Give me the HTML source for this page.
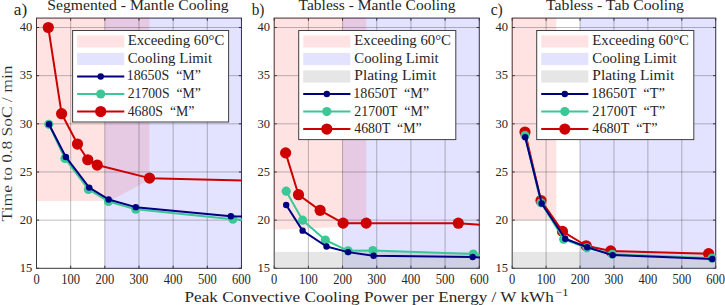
<!DOCTYPE html>
<html><head><meta charset="utf-8"><style>
html,body{margin:0;padding:0;background:#fff;}
svg{display:block;}
text{font-family:"Liberation Serif", serif;fill:#262626;}
text.thin{stroke:#fff;stroke-width:0.15px;}

</style></head><body>
<svg width="725" height="305" viewBox="0 0 725 305">
<path d="M36.5 268.3v-2.6M36.5 18.1v2.6M70.66 268.3v-2.6M70.66 18.1v2.6M104.82 268.3v-2.6M104.82 18.1v2.6M138.98 268.3v-2.6M138.98 18.1v2.6M173.14 268.3v-2.6M173.14 18.1v2.6M207.3 268.3v-2.6M207.3 18.1v2.6M241.46 268.3v-2.6M241.46 18.1v2.6M36.5 268.3h2.6M241.46 268.3h-2.6M36.5 220.14h2.6M241.46 220.14h-2.6M36.5 171.98h2.6M241.46 171.98h-2.6M36.5 123.82h2.6M241.46 123.82h-2.6M36.5 75.66h2.6M241.46 75.66h-2.6M36.5 27.5h2.6M241.46 27.5h-2.6" stroke="#383838" stroke-width="1" fill="none"/>
<rect x="36.5" y="18.1" width="204.96" height="250.2" stroke="#383838" stroke-width="1" fill="none"/>
<clipPath id="clipa"><rect x="35.9" y="17.5" width="206.16" height="251.4"/></clipPath>
<g clip-path="url(#clipa)">
<rect x="104.82" y="17.1" width="137.64" height="252.2" fill="rgba(0,0,255,0.11)"/>
<polygon points="35.5,17.1 149.4,17.1 149.4,179.69 109.94,200.88 35.5,200.88" fill="rgba(255,0,0,0.11)"/>
<path d="M70.66 18.1V268.3M104.82 18.1V268.3M138.98 18.1V268.3M173.14 18.1V268.3M207.3 18.1V268.3M36.5 220.14H241.46M36.5 171.98H241.46M36.5 123.82H241.46M36.5 75.66H241.46M36.5 27.5H241.46" stroke="#262626" stroke-opacity="0.3" stroke-width="1" fill="none"/>
<path d="M48.29 27.5 L61.61 113.71 L77.49 144.05 L87.74 159.75 L97.2 165.04 L149.5 178.14 L248.29 180.63" stroke="#cc0000" stroke-width="2" fill="none" stroke-linejoin="round"/>
<circle cx="48.29" cy="27.5" r="5.6" fill="#cc0000"/>
<circle cx="61.61" cy="113.71" r="5.6" fill="#cc0000"/>
<circle cx="77.49" cy="144.05" r="5.6" fill="#cc0000"/>
<circle cx="87.74" cy="159.75" r="5.6" fill="#cc0000"/>
<circle cx="97.2" cy="165.04" r="5.6" fill="#cc0000"/>
<circle cx="149.5" cy="178.14" r="5.6" fill="#cc0000"/>
<path d="M48.8 124.3 L64.96 158.5 L88.42 189.51 L108.51 201.45 L135.8 209.26 L232.92 219.18 L248.29 220.04" stroke="#3cc896" stroke-width="2" fill="none" stroke-linejoin="round"/>
<circle cx="48.8" cy="124.3" r="4.6" fill="#3cc896"/>
<circle cx="64.96" cy="158.5" r="4.6" fill="#3cc896"/>
<circle cx="88.42" cy="189.51" r="4.6" fill="#3cc896"/>
<circle cx="108.51" cy="201.45" r="4.6" fill="#3cc896"/>
<circle cx="135.8" cy="209.26" r="4.6" fill="#3cc896"/>
<circle cx="232.92" cy="219.18" r="4.6" fill="#3cc896"/>
<path d="M49 124.3 L65.81 156.95 L89.21 187.58 L108.58 199.43 L135.8 207.14 L230.87 216.19 L248.29 216.67" stroke="#000080" stroke-width="2" fill="none" stroke-linejoin="round"/>
<circle cx="49" cy="124.3" r="3.2" fill="#000080"/>
<circle cx="65.81" cy="156.95" r="3.2" fill="#000080"/>
<circle cx="89.21" cy="187.58" r="3.2" fill="#000080"/>
<circle cx="108.58" cy="199.43" r="3.2" fill="#000080"/>
<circle cx="135.8" cy="207.14" r="3.2" fill="#000080"/>
<circle cx="230.87" cy="216.19" r="3.2" fill="#000080"/>
</g>
<text x="36.5" y="283.5" font-size="13.6" textLength="6.25" lengthAdjust="spacingAndGlyphs" text-anchor="middle" class="tk">0</text>
<text x="70.66" y="283.5" font-size="13.6" textLength="18.75" lengthAdjust="spacingAndGlyphs" text-anchor="middle" class="tk">100</text>
<text x="104.82" y="283.5" font-size="13.6" textLength="18.75" lengthAdjust="spacingAndGlyphs" text-anchor="middle" class="tk">200</text>
<text x="138.98" y="283.5" font-size="13.6" textLength="18.75" lengthAdjust="spacingAndGlyphs" text-anchor="middle" class="tk">300</text>
<text x="173.14" y="283.5" font-size="13.6" textLength="18.75" lengthAdjust="spacingAndGlyphs" text-anchor="middle" class="tk">400</text>
<text x="207.3" y="283.5" font-size="13.6" textLength="18.75" lengthAdjust="spacingAndGlyphs" text-anchor="middle" class="tk">500</text>
<text x="241.46" y="283.5" font-size="13.6" textLength="18.75" lengthAdjust="spacingAndGlyphs" text-anchor="middle" class="tk">600</text>
<text x="32.2" y="272.1" font-size="13.1" textLength="12.5" lengthAdjust="spacingAndGlyphs" text-anchor="end" class="tk">15</text>
<text x="32.2" y="223.94" font-size="13.1" textLength="12.5" lengthAdjust="spacingAndGlyphs" text-anchor="end" class="tk">20</text>
<text x="32.2" y="175.78" font-size="13.1" textLength="12.5" lengthAdjust="spacingAndGlyphs" text-anchor="end" class="tk">25</text>
<text x="32.2" y="127.62" font-size="13.1" textLength="12.5" lengthAdjust="spacingAndGlyphs" text-anchor="end" class="tk">30</text>
<text x="32.2" y="79.46" font-size="13.1" textLength="12.5" lengthAdjust="spacingAndGlyphs" text-anchor="end" class="tk">35</text>
<text x="32.2" y="31.3" font-size="13.1" textLength="12.5" lengthAdjust="spacingAndGlyphs" text-anchor="end" class="tk">40</text>
<text x="47.26" y="10.4" font-size="15" textLength="181.47" lengthAdjust="spacingAndGlyphs" xml:space="preserve">Segmented - Mantle Cooling</text>
<text x="13.8" y="15" font-size="16" textLength="13.37" lengthAdjust="spacingAndGlyphs" xml:space="preserve">a)</text>
<path d="M274.2 268.3v-2.6M274.2 18.1v2.6M308.38 268.3v-2.6M308.38 18.1v2.6M342.56 268.3v-2.6M342.56 18.1v2.6M376.74 268.3v-2.6M376.74 18.1v2.6M410.92 268.3v-2.6M410.92 18.1v2.6M445.1 268.3v-2.6M445.1 18.1v2.6M479.28 268.3v-2.6M479.28 18.1v2.6M274.2 268.3h2.6M479.28 268.3h-2.6M274.2 220.14h2.6M479.28 220.14h-2.6M274.2 171.98h2.6M479.28 171.98h-2.6M274.2 123.82h2.6M479.28 123.82h-2.6M274.2 75.66h2.6M479.28 75.66h-2.6M274.2 27.5h2.6M479.28 27.5h-2.6" stroke="#383838" stroke-width="1" fill="none"/>
<rect x="274.2" y="18.1" width="205.08" height="250.2" stroke="#383838" stroke-width="1" fill="none"/>
<clipPath id="clipb"><rect x="273.6" y="17.5" width="206.28" height="251.4"/></clipPath>
<g clip-path="url(#clipb)">
<rect x="342.56" y="17.1" width="137.72" height="252.2" fill="rgba(0,0,255,0.11)"/>
<polygon points="273.2,17.1 366.32,17.1 366.32,223.13 342.56,223.13 342.56,226.88 273.2,229.77" fill="rgba(255,0,0,0.11)"/>
<rect x="273.2" y="251.93" width="207.08" height="17.37" fill="rgba(128,128,128,0.2)"/>
<path d="M308.38 18.1V268.3M342.56 18.1V268.3M376.74 18.1V268.3M410.92 18.1V268.3M445.1 18.1V268.3M274.2 220.14H479.28M274.2 171.98H479.28M274.2 123.82H479.28M274.2 75.66H479.28M274.2 27.5H479.28" stroke="#262626" stroke-opacity="0.3" stroke-width="1" fill="none"/>
<path d="M285.62 152.91 L298.5 194.71 L320.1 210.32 L343.11 223.13 L366.21 223.13 L458.29 223.22 L486.12 225.14" stroke="#cc0000" stroke-width="2" fill="none" stroke-linejoin="round"/>
<circle cx="285.62" cy="152.91" r="5.6" fill="#cc0000"/>
<circle cx="298.5" cy="194.71" r="5.6" fill="#cc0000"/>
<circle cx="320.1" cy="210.32" r="5.6" fill="#cc0000"/>
<circle cx="343.11" cy="223.13" r="5.6" fill="#cc0000"/>
<circle cx="366.21" cy="223.13" r="5.6" fill="#cc0000"/>
<circle cx="458.29" cy="223.22" r="5.6" fill="#cc0000"/>
<path d="M286.2 191.15 L302.6 220.14 L325.33 239.98 L348.1 250.87 L372.91 250.48 L473.2 254.04 L486.12 256.5" stroke="#3cc896" stroke-width="2" fill="none" stroke-linejoin="round"/>
<circle cx="286.2" cy="191.15" r="4.6" fill="#3cc896"/>
<circle cx="302.6" cy="220.14" r="4.6" fill="#3cc896"/>
<circle cx="325.33" cy="239.98" r="4.6" fill="#3cc896"/>
<circle cx="348.1" cy="250.87" r="4.6" fill="#3cc896"/>
<circle cx="372.91" cy="250.48" r="4.6" fill="#3cc896"/>
<circle cx="473.2" cy="254.04" r="4.6" fill="#3cc896"/>
<path d="M286.2 205.02 L302.6 230.64 L326.5 246.53 L348.1 252.12 L373.6 255.78 L472.68 257.03 L486.12 258.01" stroke="#000080" stroke-width="2" fill="none" stroke-linejoin="round"/>
<circle cx="286.2" cy="205.02" r="3.2" fill="#000080"/>
<circle cx="302.6" cy="230.64" r="3.2" fill="#000080"/>
<circle cx="326.5" cy="246.53" r="3.2" fill="#000080"/>
<circle cx="348.1" cy="252.12" r="3.2" fill="#000080"/>
<circle cx="373.6" cy="255.78" r="3.2" fill="#000080"/>
<circle cx="472.68" cy="257.03" r="3.2" fill="#000080"/>
</g>
<text x="274.2" y="283.5" font-size="13.6" textLength="6.25" lengthAdjust="spacingAndGlyphs" text-anchor="middle" class="tk">0</text>
<text x="308.38" y="283.5" font-size="13.6" textLength="18.75" lengthAdjust="spacingAndGlyphs" text-anchor="middle" class="tk">100</text>
<text x="342.56" y="283.5" font-size="13.6" textLength="18.75" lengthAdjust="spacingAndGlyphs" text-anchor="middle" class="tk">200</text>
<text x="376.74" y="283.5" font-size="13.6" textLength="18.75" lengthAdjust="spacingAndGlyphs" text-anchor="middle" class="tk">300</text>
<text x="410.92" y="283.5" font-size="13.6" textLength="18.75" lengthAdjust="spacingAndGlyphs" text-anchor="middle" class="tk">400</text>
<text x="445.1" y="283.5" font-size="13.6" textLength="18.75" lengthAdjust="spacingAndGlyphs" text-anchor="middle" class="tk">500</text>
<text x="479.28" y="283.5" font-size="13.6" textLength="18.75" lengthAdjust="spacingAndGlyphs" text-anchor="middle" class="tk">600</text>
<text x="269.9" y="272.1" font-size="13.1" textLength="12.5" lengthAdjust="spacingAndGlyphs" text-anchor="end" class="tk">15</text>
<text x="269.9" y="223.94" font-size="13.1" textLength="12.5" lengthAdjust="spacingAndGlyphs" text-anchor="end" class="tk">20</text>
<text x="269.9" y="175.78" font-size="13.1" textLength="12.5" lengthAdjust="spacingAndGlyphs" text-anchor="end" class="tk">25</text>
<text x="269.9" y="127.62" font-size="13.1" textLength="12.5" lengthAdjust="spacingAndGlyphs" text-anchor="end" class="tk">30</text>
<text x="269.9" y="79.46" font-size="13.1" textLength="12.5" lengthAdjust="spacingAndGlyphs" text-anchor="end" class="tk">35</text>
<text x="269.9" y="31.3" font-size="13.1" textLength="12.5" lengthAdjust="spacingAndGlyphs" text-anchor="end" class="tk">40</text>
<text x="298.6" y="10.4" font-size="15" textLength="156.95" lengthAdjust="spacingAndGlyphs" xml:space="preserve">Tabless - Mantle Cooling</text>
<text x="251.7" y="15" font-size="16" textLength="12.71" lengthAdjust="spacingAndGlyphs" xml:space="preserve">b)</text>
<path d="M512.2 268.3v-2.6M512.2 18.1v2.6M546.12 268.3v-2.6M546.12 18.1v2.6M580.04 268.3v-2.6M580.04 18.1v2.6M613.96 268.3v-2.6M613.96 18.1v2.6M647.88 268.3v-2.6M647.88 18.1v2.6M681.8 268.3v-2.6M681.8 18.1v2.6M715.72 268.3v-2.6M715.72 18.1v2.6M512.2 268.3h2.6M715.72 268.3h-2.6M512.2 220.14h2.6M715.72 220.14h-2.6M512.2 171.98h2.6M715.72 171.98h-2.6M512.2 123.82h2.6M715.72 123.82h-2.6M512.2 75.66h2.6M715.72 75.66h-2.6M512.2 27.5h2.6M715.72 27.5h-2.6" stroke="#383838" stroke-width="1" fill="none"/>
<rect x="512.2" y="18.1" width="203.52" height="250.2" stroke="#383838" stroke-width="1" fill="none"/>
<clipPath id="clipc"><rect x="511.6" y="17.5" width="204.72" height="251.4"/></clipPath>
<g clip-path="url(#clipc)">
<rect x="580.04" y="17.1" width="136.68" height="252.2" fill="rgba(0,0,255,0.11)"/>
<rect x="511.2" y="17.1" width="45.1" height="203.04" fill="rgba(255,0,0,0.11)"/>
<rect x="511.2" y="251.93" width="205.52" height="17.37" fill="rgba(128,128,128,0.2)"/>
<path d="M546.12 18.1V268.3M580.04 18.1V268.3M613.96 18.1V268.3M647.88 18.1V268.3M681.8 18.1V268.3M512.2 220.14H715.72M512.2 171.98H715.72M512.2 123.82H715.72M512.2 75.66H715.72M512.2 27.5H715.72" stroke="#262626" stroke-opacity="0.3" stroke-width="1" fill="none"/>
<path d="M524.99 132.01 L541 200.49 L562.5 231.41 L586.21 245.76 L610.7 250.96 L708.6 253.66" stroke="#cc0000" stroke-width="2" fill="none" stroke-linejoin="round"/>
<circle cx="524.99" cy="132.01" r="5.6" fill="#cc0000"/>
<circle cx="541" cy="200.49" r="5.6" fill="#cc0000"/>
<circle cx="562.5" cy="231.41" r="5.6" fill="#cc0000"/>
<circle cx="586.21" cy="245.76" r="5.6" fill="#cc0000"/>
<circle cx="610.7" cy="250.96" r="5.6" fill="#cc0000"/>
<circle cx="708.6" cy="253.66" r="5.6" fill="#cc0000"/>
<path d="M524.99 135.47 L541 202.8 L563.69 239.31 L586.89 247.78 L612.3 254.33 L711.99 258.19" stroke="#3cc896" stroke-width="2" fill="none" stroke-linejoin="round"/>
<circle cx="524.99" cy="135.47" r="4.6" fill="#3cc896"/>
<circle cx="541" cy="202.8" r="4.6" fill="#3cc896"/>
<circle cx="563.69" cy="239.31" r="4.6" fill="#3cc896"/>
<circle cx="586.89" cy="247.78" r="4.6" fill="#3cc896"/>
<circle cx="612.3" cy="254.33" r="4.6" fill="#3cc896"/>
<circle cx="711.99" cy="258.19" r="4.6" fill="#3cc896"/>
<path d="M525.19 137.3 L541.71 203.48 L565.22 238.73 L587.2 247.3 L612.6 255.1 L712.33 258.96" stroke="#000080" stroke-width="2" fill="none" stroke-linejoin="round"/>
<circle cx="525.19" cy="137.3" r="3.2" fill="#000080"/>
<circle cx="541.71" cy="203.48" r="3.2" fill="#000080"/>
<circle cx="565.22" cy="238.73" r="3.2" fill="#000080"/>
<circle cx="587.2" cy="247.3" r="3.2" fill="#000080"/>
<circle cx="612.6" cy="255.1" r="3.2" fill="#000080"/>
<circle cx="712.33" cy="258.96" r="3.2" fill="#000080"/>
</g>
<text x="512.2" y="283.5" font-size="13.6" textLength="6.25" lengthAdjust="spacingAndGlyphs" text-anchor="middle" class="tk">0</text>
<text x="546.12" y="283.5" font-size="13.6" textLength="18.75" lengthAdjust="spacingAndGlyphs" text-anchor="middle" class="tk">100</text>
<text x="580.04" y="283.5" font-size="13.6" textLength="18.75" lengthAdjust="spacingAndGlyphs" text-anchor="middle" class="tk">200</text>
<text x="613.96" y="283.5" font-size="13.6" textLength="18.75" lengthAdjust="spacingAndGlyphs" text-anchor="middle" class="tk">300</text>
<text x="647.88" y="283.5" font-size="13.6" textLength="18.75" lengthAdjust="spacingAndGlyphs" text-anchor="middle" class="tk">400</text>
<text x="681.8" y="283.5" font-size="13.6" textLength="18.75" lengthAdjust="spacingAndGlyphs" text-anchor="middle" class="tk">500</text>
<text x="715.72" y="283.5" font-size="13.6" textLength="18.75" lengthAdjust="spacingAndGlyphs" text-anchor="middle" class="tk">600</text>
<text x="507.9" y="272.1" font-size="13.1" textLength="12.5" lengthAdjust="spacingAndGlyphs" text-anchor="end" class="tk">15</text>
<text x="507.9" y="223.94" font-size="13.1" textLength="12.5" lengthAdjust="spacingAndGlyphs" text-anchor="end" class="tk">20</text>
<text x="507.9" y="175.78" font-size="13.1" textLength="12.5" lengthAdjust="spacingAndGlyphs" text-anchor="end" class="tk">25</text>
<text x="507.9" y="127.62" font-size="13.1" textLength="12.5" lengthAdjust="spacingAndGlyphs" text-anchor="end" class="tk">30</text>
<text x="507.9" y="79.46" font-size="13.1" textLength="12.5" lengthAdjust="spacingAndGlyphs" text-anchor="end" class="tk">35</text>
<text x="507.9" y="31.3" font-size="13.1" textLength="12.5" lengthAdjust="spacingAndGlyphs" text-anchor="end" class="tk">40</text>
<text x="546" y="10.4" font-size="15" textLength="137.99" lengthAdjust="spacingAndGlyphs" xml:space="preserve">Tabless - Tab Cooling</text>
<text x="490.7" y="15" font-size="16" textLength="12.13" lengthAdjust="spacingAndGlyphs" xml:space="preserve">c)</text>
<rect x="72.6" y="30.5" width="156" height="91.5" fill="#fff" stroke="#404040" stroke-width="1"/>
<rect x="77.1" y="35.35" width="47.2" height="12.2" fill="rgba(255,0,0,0.11)"/>
<text x="127.7" y="45.05" font-size="14.0" textLength="96.66" lengthAdjust="spacingAndGlyphs" xml:space="preserve">Exceeding 60°C</text>
<rect x="77.1" y="52.87" width="47.2" height="12.2" fill="rgba(0,0,255,0.11)"/>
<text x="127.7" y="62.71" font-size="14.0" textLength="84.42" lengthAdjust="spacingAndGlyphs" xml:space="preserve">Cooling Limit</text>
<path d="M77.1 76.49H124.3" stroke="#000080" stroke-width="2"/>
<circle cx="100.7" cy="76.49" r="3.2" fill="#000080"/>
<text x="126.71" y="80.37" font-size="14.0" textLength="74.16" lengthAdjust="spacingAndGlyphs" xml:space="preserve">18650S  “M”</text>
<path d="M77.1 94.01H124.3" stroke="#3cc896" stroke-width="2"/>
<circle cx="100.7" cy="94.01" r="4.6" fill="#3cc896"/>
<text x="127.7" y="98.03" font-size="14.0" textLength="73.16" lengthAdjust="spacingAndGlyphs" xml:space="preserve">21700S  “M”</text>
<path d="M77.1 111.53H124.3" stroke="#cc0000" stroke-width="2"/>
<circle cx="100.7" cy="111.53" r="5.6" fill="#cc0000"/>
<text x="127.7" y="115.69" font-size="14.0" textLength="66.76" lengthAdjust="spacingAndGlyphs" xml:space="preserve">4680S  “M”</text>
<rect x="298.7" y="30.5" width="157.1" height="109.1" fill="#fff" stroke="#404040" stroke-width="1"/>
<rect x="303.2" y="35.35" width="47.2" height="12.2" fill="rgba(255,0,0,0.11)"/>
<text x="354.3" y="45.05" font-size="14.0" textLength="96.66" lengthAdjust="spacingAndGlyphs" xml:space="preserve">Exceeding 60°C</text>
<rect x="303.2" y="52.87" width="47.2" height="12.2" fill="rgba(0,0,255,0.11)"/>
<text x="354.3" y="62.71" font-size="14.0" textLength="84.42" lengthAdjust="spacingAndGlyphs" xml:space="preserve">Cooling Limit</text>
<rect x="303.2" y="70.39" width="47.2" height="12.2" fill="rgba(128,128,128,0.2)"/>
<text x="354.3" y="80.37" font-size="14.0" textLength="81.91" lengthAdjust="spacingAndGlyphs" xml:space="preserve">Plating Limit</text>
<path d="M303.2 94.01H350.4" stroke="#000080" stroke-width="2"/>
<circle cx="326.8" cy="94.01" r="3.2" fill="#000080"/>
<text x="353.29" y="98.03" font-size="14.0" textLength="75.8" lengthAdjust="spacingAndGlyphs" xml:space="preserve">18650T  “M”</text>
<path d="M303.2 111.53H350.4" stroke="#3cc896" stroke-width="2"/>
<circle cx="326.8" cy="111.53" r="4.6" fill="#3cc896"/>
<text x="354.3" y="115.69" font-size="14.0" textLength="74.79" lengthAdjust="spacingAndGlyphs" xml:space="preserve">21700T  “M”</text>
<path d="M303.2 129.05H350.4" stroke="#cc0000" stroke-width="2"/>
<circle cx="326.8" cy="129.05" r="5.6" fill="#cc0000"/>
<text x="354.3" y="133.35" font-size="14.0" textLength="67.29" lengthAdjust="spacingAndGlyphs" xml:space="preserve">4680T  “M”</text>
<rect x="536.7" y="30.5" width="157.1" height="109.1" fill="#fff" stroke="#404040" stroke-width="1"/>
<rect x="541.2" y="35.35" width="47.2" height="12.2" fill="rgba(255,0,0,0.11)"/>
<text x="592.3" y="45.05" font-size="14.0" textLength="96.66" lengthAdjust="spacingAndGlyphs" xml:space="preserve">Exceeding 60°C</text>
<rect x="541.2" y="52.87" width="47.2" height="12.2" fill="rgba(0,0,255,0.11)"/>
<text x="592.3" y="62.71" font-size="14.0" textLength="84.42" lengthAdjust="spacingAndGlyphs" xml:space="preserve">Cooling Limit</text>
<rect x="541.2" y="70.39" width="47.2" height="12.2" fill="rgba(128,128,128,0.2)"/>
<text x="592.3" y="80.37" font-size="14.0" textLength="81.91" lengthAdjust="spacingAndGlyphs" xml:space="preserve">Plating Limit</text>
<path d="M541.2 94.01H588.4" stroke="#000080" stroke-width="2"/>
<circle cx="564.8" cy="94.01" r="3.2" fill="#000080"/>
<text x="591.27" y="98.03" font-size="14.0" textLength="73.73" lengthAdjust="spacingAndGlyphs" xml:space="preserve">18650T  “T”</text>
<path d="M541.2 111.53H588.4" stroke="#3cc896" stroke-width="2"/>
<circle cx="564.8" cy="111.53" r="4.6" fill="#3cc896"/>
<text x="592.3" y="115.69" font-size="14.0" textLength="72.69" lengthAdjust="spacingAndGlyphs" xml:space="preserve">21700T  “T”</text>
<path d="M541.2 129.05H588.4" stroke="#cc0000" stroke-width="2"/>
<circle cx="564.8" cy="129.05" r="5.6" fill="#cc0000"/>
<text x="592.3" y="133.35" font-size="14.0" textLength="65.19" lengthAdjust="spacingAndGlyphs" xml:space="preserve">4680T  “T”</text>
<text x="184.6" y="301.5" font-size="14.8" textLength="369.19" lengthAdjust="spacingAndGlyphs" xml:space="preserve">Peak Convective Cooling Power per Energy / W kWh</text>
<text x="555.2" y="295.5" font-size="10.0" textLength="13.19" lengthAdjust="spacingAndGlyphs" xml:space="preserve">−1</text>
<text x="0" y="0" font-size="14.8" textLength="155.92" lengthAdjust="spacingAndGlyphs" xml:space="preserve" transform="translate(12.2,221.4) rotate(-90)" class="thin">Time to 0.8 SoC / min</text>
</svg>
</body></html>
